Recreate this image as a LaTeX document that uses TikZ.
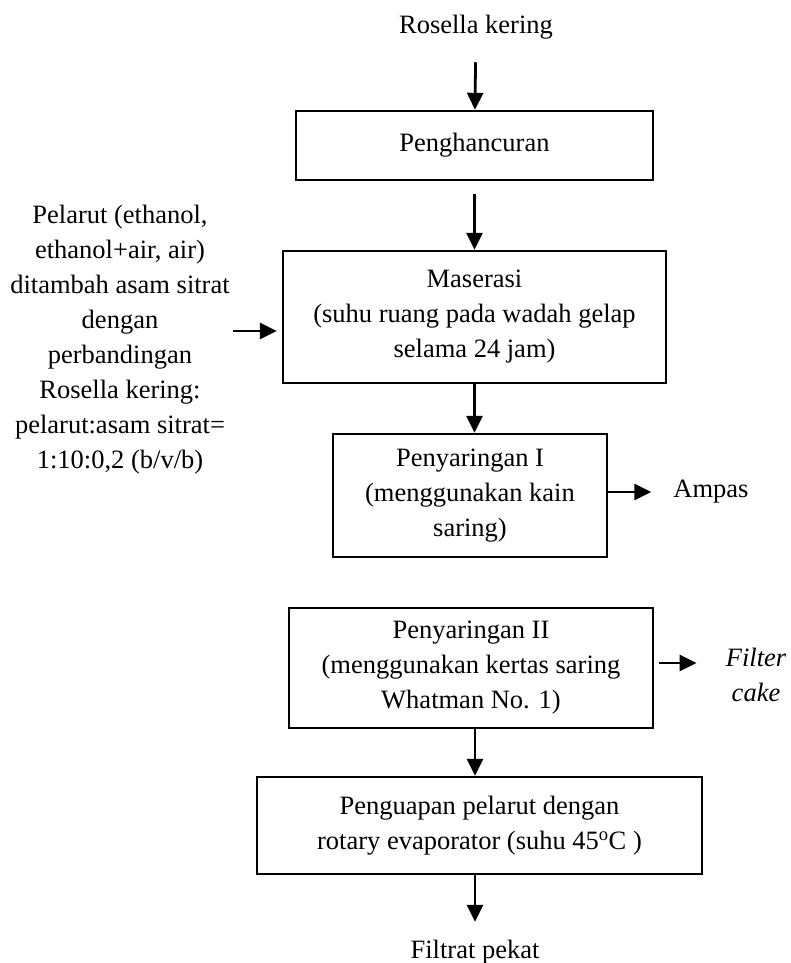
\documentclass[tikz,border=0pt]{standalone}
\usepackage{fontspec}
\setmainfont{Liberation Serif}
\usetikzlibrary{arrows.meta}

\newcommand{\flowfont}{\fontsize{26.5}{35}\selectfont}

\begin{document}
\begin{tikzpicture}[x=1pt,y=-1pt,>={Triangle[length=17pt,width=16pt]},font=\flowfont,
        stepbox/.style={draw,line width=2.4pt,align=center,inner sep=0pt},
        plain/.style={align=center,inner sep=0pt}]

            \useasboundingbox (0,0) rectangle (791,963);

            \node[plain] (raw) at (476,27) {Rosella kering};

            \node[stepbox,minimum width=357pt,minimum height=69pt] (crush) at (474.5,145.5) {Penghancuran};

            \node[stepbox,minimum width=383pt,minimum height=132pt] (macer) at (474.5,317)
                {Maserasi\\(suhu ruang pada wadah gelap\\selama 24 jam)};

            \node[plain] (solvent) at (120,340)
                {Pelarut (ethanol,\\ethanol+air, air)\\ditambah asam sitrat\\dengan\\perbandingan\\Rosella kering:\\pelarut:asam sitrat=\\1:10:0,2 (b/v/b)};

            \node[stepbox,minimum width=274pt,minimum height=123pt] (filt1) at (470,495.5)
                {Penyaringan I\\(menggunakan kain\\saring)};

            \node[plain] (waste) at (711,492) {Ampas};

            \node[stepbox,minimum width=364pt,minimum height=120pt] (filt2) at (471,668)
                {Penyaringan II\\(menggunakan kertas saring\\Whatman No. 1)};

            \node[plain,font=\flowfont\itshape] (cake) at (756,675) {Filter\\cake};

            \node[stepbox,minimum width=445pt,minimum height=97pt] (evap) at (479.5,825.5)
                {Penguapan pelarut dengan\\rotary evaporator (suhu 45\textsuperscript{o}C )};

            \node[plain] (out) at (475,952) {Filtrat pekat};

            \path[->,line width=2.8pt] (raw) edge[shorten <=23pt] (crush)
                      (crush) edge[shorten <=13pt] (macer)
                      ([yshift=-14pt]macer.west -| solvent.east) edge[shorten <=3pt,shorten >=5pt] ([yshift=-14pt]macer.west)
                      (macer.south) edge (macer.south |- filt1.north)
                      (filt1.east |- waste) edge[shorten >=22pt] (waste)
                      ([yshift=5pt]filt2.east) edge[shorten <=5pt,shorten >=29pt] ([yshift=5pt]filt2.east -| cake.west)
                      (filt2.south -| out) edge (evap.north -| out)
                      (evap.south -| out) edge[shorten >=18pt] (out);
\end{tikzpicture}
\end{document}
